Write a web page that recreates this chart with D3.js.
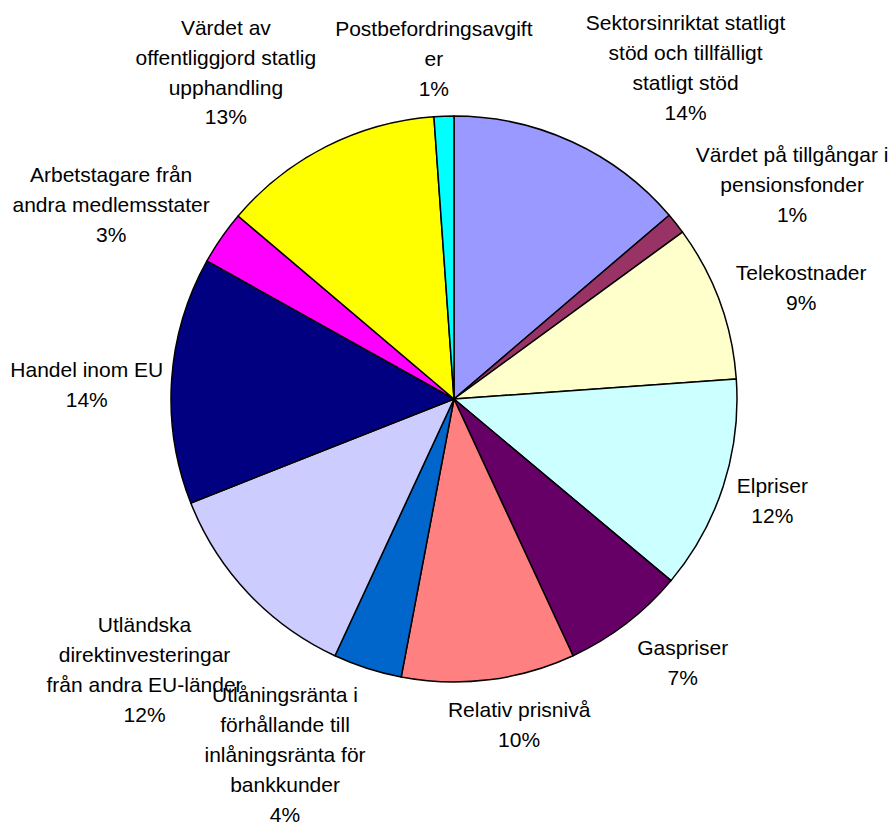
<!DOCTYPE html>
<html>
<head>
<meta charset="utf-8">
<script src="https://cdn.jsdelivr.net/npm/d3@7"></script>
<style>
  body { margin: 0; background: #fff; }
  svg text { font-family: "Liberation Sans", Arial, sans-serif; font-size: 21px; fill: #000; }
</style>
</head>
<body>
<div id="chart"></div>
<script>
// slice labels, already wrapped as in the original
var labels = [
    ["Sektorsinriktat statligt", "stöd och tillfälligt", "statligt stöd"],
    ["Värdet på tillgångar i", "pensionsfonder"],
    ["Telekostnader"],
    ["Elpriser"],
    ["Gaspriser"],
    ["Relativ prisnivå"],
    ["Utlåningsränta i", "förhållande till", "inlåningsränta för", "bankkunder"],
    ["Utländska", "direktinvesteringar", "från andra EU-länder"],
    ["Handel inom EU"],
    ["Arbetstagare från", "andra medlemsstater"],
    ["Värdet av", "offentliggjord statlig", "upphandling"],
    ["Postbefordringsavgift", "er"]
];

// shares in percent
var values = [13.75, 1.21, 8.92, 12.21, 7.0, 9.9, 3.92, 12.1, 14.1, 3.08, 12.68, 1.13];

var colors = ["#9999FF", "#993366", "#FFFFCC", "#CCFFFF", "#660066", "#FF8080",
              "#0066CC", "#CCCCFF", "#000080", "#FF00FF", "#FFFF00", "#00FFFF"];

// manual label offsets from the label arc (like dragged Excel labels)
var labelNudge = [[88, -20], [69, -2], [25, 6], [-8, -4], [20, -9], [23, -15],
                  [-64, 29], [-60, 35], [-25, 8], [-61, 1], [-73, -21], [-8, 2]];

var width = 896, height = 825,
    cx = 454, cy = 399,
    radius = 283,
    lineHeight = 29.8;

var svg = d3.select("#chart").append("svg")
    .attr("width", width)
    .attr("height", height);

var total = d3.sum(values);

var pie = d3.pie()
    .sort(null)
    .value(function (d) { return d; });

var arc = d3.arc()
    .innerRadius(0)
    .outerRadius(radius);

var labelArc = d3.arc()
    .innerRadius(radius + 60)
    .outerRadius(radius + 60);

var arcs = pie(values);

var g = svg.append("g")
    .attr("transform", "translate(" + cx + "," + cy + ")");

g.selectAll("path.slice")
    .data(arcs)
    .enter().append("path")
    .attr("class", "slice")
    .attr("d", arc)
    .attr("fill", function (d, i) { return colors[i]; })
    .attr("stroke", "#000")
    .attr("stroke-width", 1.5)
    .attr("stroke-linejoin", "round");

var lab = g.selectAll("text.label")
    .data(arcs)
    .enter().append("text")
    .attr("class", "label")
    .attr("text-anchor", "middle");

lab.each(function (d, i) {
    var c = labelArc.centroid(d),
        x = c[0] + labelNudge[i][0],
        y = c[1] + labelNudge[i][1],
        lines = labels[i].concat([Math.round(d.value / total * 100) + "%"]),
        first = y - (lines.length - 1) / 2 * lineHeight + 7.5;
    var t = d3.select(this);
    lines.forEach(function (s, k) {
        t.append("tspan")
            .attr("x", x)
            .attr("y", first + k * lineHeight)
            .text(s);
    });
});
</script>
</body>
</html>
